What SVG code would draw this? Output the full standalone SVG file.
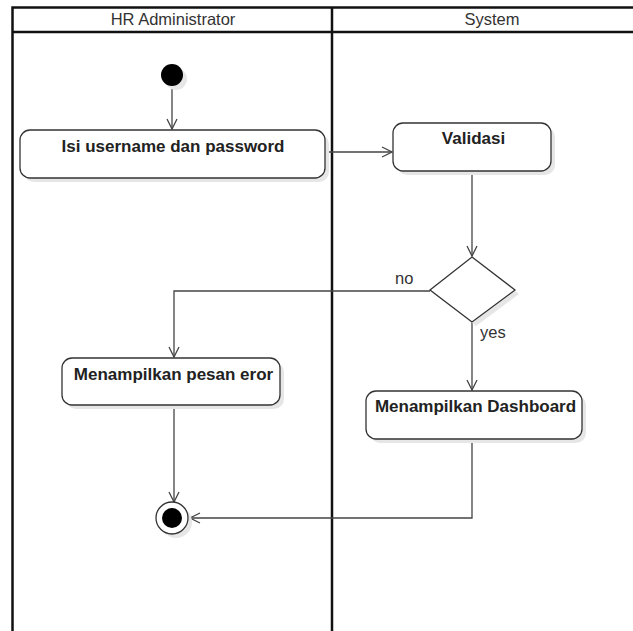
<svg xmlns="http://www.w3.org/2000/svg" width="633" height="631" viewBox="0 0 633 631">
  <style>
    .lane { fill: none; stroke: #111; stroke-width: 2.5; }
    .hdr { font-family: "Liberation Sans", Arial, sans-serif; font-size: 16.5px; fill: #333; text-anchor: middle; }
    .act { fill: #fff; stroke: #333; stroke-width: 1.3; }
    .shadow { fill: #e6e6e6; }
    .lbl { font-family: "Liberation Sans", Arial, sans-serif; font-size: 17px; font-weight: bold; fill: #222; text-anchor: middle; }
    .guard { font-family: "Liberation Sans", Arial, sans-serif; font-size: 16.5px; fill: #333; }
    .flow { fill: none; stroke: #444; stroke-width: 1.3; }
  </style>
  <defs>
    <marker id="open" viewBox="0 0 12 12" refX="11" refY="6" markerWidth="12" markerHeight="12" markerUnits="userSpaceOnUse" orient="auto">
      <path d="M1,1 L11,6 L1,11" fill="none" stroke="#444" stroke-width="1.3"/>
    </marker>
  </defs>

  <rect width="633" height="631" fill="#fff"/>

  <!-- swimlanes -->
  <g id="lanes">
    <path class="lane" d="M12.5,631 V7.5 H640 M12.5,32 H640 M332,7.5 V631"/>
    <text class="hdr" x="173" y="25">HR Administrator</text>
    <text class="hdr" x="492" y="25">System</text>
  </g>

  <!-- connectors -->
  <g id="connectors">
    <path class="flow" d="M172,87 V129" marker-end="url(#open)"/>
    <path class="flow" d="M325,152 H392" marker-end="url(#open)"/>
    <path class="flow" d="M472,171 V256" marker-end="url(#open)"/>
    <path class="flow" d="M430,291 H174 V357" marker-end="url(#open)"/>
    <text class="guard" x="395" y="284">no</text>
    <path class="flow" d="M472,322 V390" marker-end="url(#open)"/>
    <text class="guard" x="480" y="338">yes</text>
    <path class="flow" d="M174,405 V502" marker-end="url(#open)"/>
    <path class="flow" d="M472,439 V518 H190" marker-end="url(#open)"/>
  </g>

  <g id="start">
    <circle cx="176" cy="79" r="11" class="shadow"/>
    <circle cx="172" cy="75" r="11" fill="#000"/>
  </g>

  <g id="isi-username">
    <rect class="shadow" x="24" y="134" width="305" height="48" rx="10"/>
    <rect class="act" x="20" y="130" width="305" height="48" rx="10"/>
    <text class="lbl" x="173" y="152">Isi username dan password</text>
  </g>

  <g id="validasi">
    <rect class="shadow" x="397" y="127" width="158" height="48" rx="10"/>
    <rect class="act" x="393" y="123" width="158" height="48" rx="10"/>
    <text class="lbl" x="473.5" y="144">Validasi</text>
  </g>

  <g id="decision">
    <polygon class="shadow" points="476,261 519,294 476,326 434,294"/>
    <polygon class="act" points="472,257 515,290 472,322 430,290"/>
  </g>

  <g id="pesan-eror">
    <rect class="shadow" x="66" y="362" width="218" height="47" rx="10"/>
    <rect class="act" x="62" y="358" width="218" height="47" rx="10"/>
    <text class="lbl" x="173.5" y="380">Menampilkan pesan eror</text>
  </g>

  <g id="dashboard">
    <rect class="shadow" x="370" y="395" width="216" height="48" rx="10"/>
    <rect class="act" x="366" y="391" width="216" height="48" rx="10"/>
    <text class="lbl" x="475.5" y="412">Menampilkan Dashboard</text>
  </g>

  <g id="end">
    <circle cx="176" cy="522" r="16" class="shadow"/>
    <circle cx="172" cy="518" r="16" fill="#fff" stroke="#333" stroke-width="1.3"/>
    <circle cx="172" cy="518" r="10" fill="#000"/>
  </g>
</svg>
